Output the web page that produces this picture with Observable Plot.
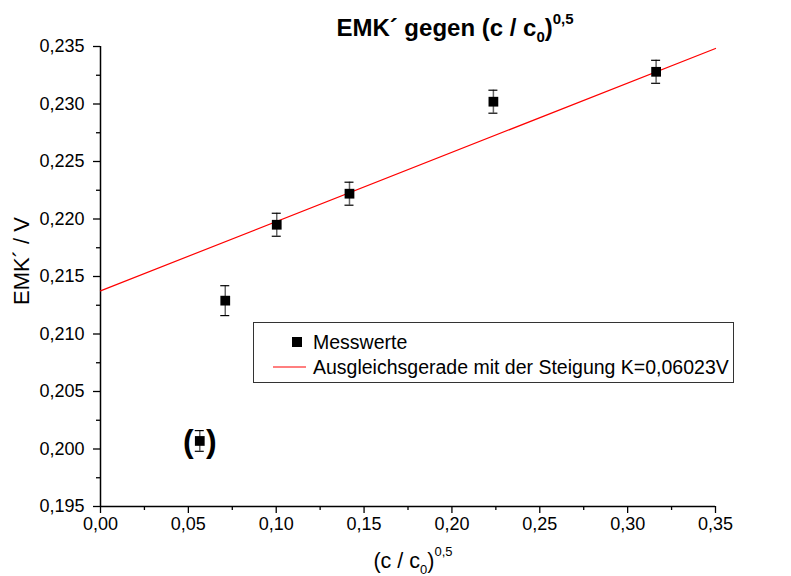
<!DOCTYPE html>
<html>
<head>
<meta charset="utf-8">
<script src="https://cdn.jsdelivr.net/npm/d3@7"></script>
<script src="https://cdn.jsdelivr.net/npm/@observablehq/plot@0.6"></script>
<style>
  html, body { margin: 0; padding: 0; background: #fff; }
  #chart { position: relative; width: 791px; height: 576px; }
</style>
</head>
<body>
<div id="chart"></div>
<script>
// Data
const xValues = [0.0565, 0.0710, 0.1003, 0.1417, 0.2236, 0.3162];
const yValues = [0.2007, 0.2129, 0.2195, 0.2222, 0.2302, 0.2328];
const yErrors = [0.0009, 0.0013, 0.0010, 0.0010, 0.0010, 0.0010];
const bracketed = [true, false, false, false, false, false];
const fitX = [0, 0.35];
const fitY = [0.21375, 0.23483];
const xTicks = [0, 0.05, 0.10, 0.15, 0.20, 0.25, 0.30, 0.35];
const xMinorTicks = [0.025, 0.075, 0.125, 0.175, 0.225, 0.275, 0.325];
const yTicks = [0.195, 0.200, 0.205, 0.210, 0.215, 0.220, 0.225, 0.230, 0.235];
const yMinorTicks = [0.1975, 0.2025, 0.2075, 0.2125, 0.2175, 0.2225, 0.2275, 0.2325];
const legendLabels = ["Messwerte", "Ausgleichsgerade mit der Steigung K=0,06023V"];

const points = xValues.map((x, i) => ({x, y: yValues[i], e: yErrors[i], br: bracketed[i]}));
const fit = fitX.map((x, i) => ({x, y: fitY[i]}));

const W = 791, H = 576;
const mL = 100, mR = 76, mT = 46, mB = 70;
const capHalf = 0.35 / (W - mL - mR) * 4.5; // ~4.5px half cap width in data units

const font = "'Liberation Sans', Arial, sans-serif";
const fmt3 = d => d.toFixed(3).replace(".", ",");
const fmt2 = d => d.toFixed(2).replace(".", ",");

const plot = Plot.plot({
  width: W,
  height: H,
  marginLeft: mL,
  marginRight: mR,
  marginTop: mT,
  marginBottom: mB,
  style: {fontFamily: font, fontSize: "18px", color: "#000", background: "#fff", overflow: "visible"},
  x: {domain: [0, 0.35]},
  y: {domain: [0.195, 0.235]},
  marks: [
    Plot.axisX({ticks: xTicks, tickFormat: fmt2, tickSize: 7, tickPadding: 4, label: null, stroke: "#000", strokeWidth: 1.3, fontSize: 18}),
    Plot.axisX({ticks: xMinorTicks, tickFormat: null, text: null, tickSize: 4, label: null, stroke: "#000", strokeWidth: 1.3}),
    Plot.axisY({ticks: yTicks, tickFormat: fmt3, tickSize: 7, tickPadding: 9, label: null, stroke: "#000", strokeWidth: 1.3, fontSize: 18}),
    Plot.axisY({ticks: yMinorTicks, tickFormat: null, text: null, tickSize: 4, label: null, stroke: "#000", strokeWidth: 1.3}),
    Plot.ruleX([0], {stroke: "#000", strokeWidth: 1.5}),
    Plot.ruleY([0.195], {stroke: "#000", strokeWidth: 1.5}),
    Plot.line(fit, {x: "x", y: "y", stroke: "#ff0000", strokeWidth: 1.2}),
    Plot.ruleX(points, {x: "x", y1: d => d.y - d.e, y2: d => d.y + d.e, stroke: "#666", strokeWidth: 1.5}),
    Plot.ruleY(points, {y: d => d.y + d.e, x1: d => d.x - capHalf, x2: d => d.x + capHalf, stroke: "#000", strokeWidth: 1.2}),
    Plot.ruleY(points, {y: d => d.y - d.e, x1: d => d.x - capHalf, x2: d => d.x + capHalf, stroke: "#000", strokeWidth: 1.2}),
    Plot.dot(points, {x: "x", y: "y", symbol: "square", r: 5.5, fill: "#000", stroke: "none"}),
    Plot.text(points.filter(d => d.br), {x: "x", y: "y", text: () => "(", dx: -11.5, dy: 1, fontSize: 32, fontWeight: 600, fill: "#000"}),
    Plot.text(points.filter(d => d.br), {x: "x", y: "y", text: () => ")", dx: 11.5, dy: 1, fontSize: 32, fontWeight: 600, fill: "#000"})
  ]
});

document.getElementById("chart").appendChild(plot);

const svg = d3.select(plot);
const txt = (sel, size, weight, anchor) => sel
  .style("font-family", font).style("font-size", size + "px")
  .style("font-weight", weight || "normal").style("text-anchor", anchor || "start")
  .attr("fill", "#000");

// Title with subscript / superscript
const title = txt(svg.append("text").attr("x", 455).attr("y", 36), 24, "bold", "middle");
title.append("tspan").text("EMK´ gegen (c / c");
title.append("tspan").style("font-size", "15px").attr("dy", 6).text("0");
title.append("tspan").attr("dy", -6).text(")");
title.append("tspan").style("font-size", "15px").attr("dy", -12).text("0,5");

// X axis label
const xl = txt(svg.append("text").attr("x", 413).attr("y", 568), 21.5, "normal", "middle");
xl.append("tspan").text("(c / c");
xl.append("tspan").style("font-size", "13px").attr("dy", 6).text("0");
xl.append("tspan").attr("dy", -6).text(")");
xl.append("tspan").style("font-size", "13px").attr("dy", -12).text("0,5");

// Y axis label
txt(svg.append("text").attr("transform", "translate(29,261) rotate(-90)"), 22, "normal", "middle")
  .text("EMK´ / V");

// Legend
const lg = svg.append("g");
lg.append("rect").attr("x", 253.5).attr("y", 322.5).attr("width", 480).attr("height", 60)
  .attr("fill", "#fff").attr("stroke", "#333").attr("stroke-width", 1);
lg.append("rect").attr("x", 292).attr("y", 337).attr("width", 10).attr("height", 10).attr("fill", "#000");
lg.append("line").attr("x1", 273).attr("x2", 306).attr("y1", 367).attr("y2", 367)
  .attr("stroke", "#ff0000").attr("stroke-width", 1.2);
txt(lg.append("text").attr("x", 313).attr("y", 349), 19.5).text(legendLabels[0]);
txt(lg.append("text").attr("x", 313).attr("y", 374), 19.5).text(legendLabels[1]);
</script>
</body>
</html>
